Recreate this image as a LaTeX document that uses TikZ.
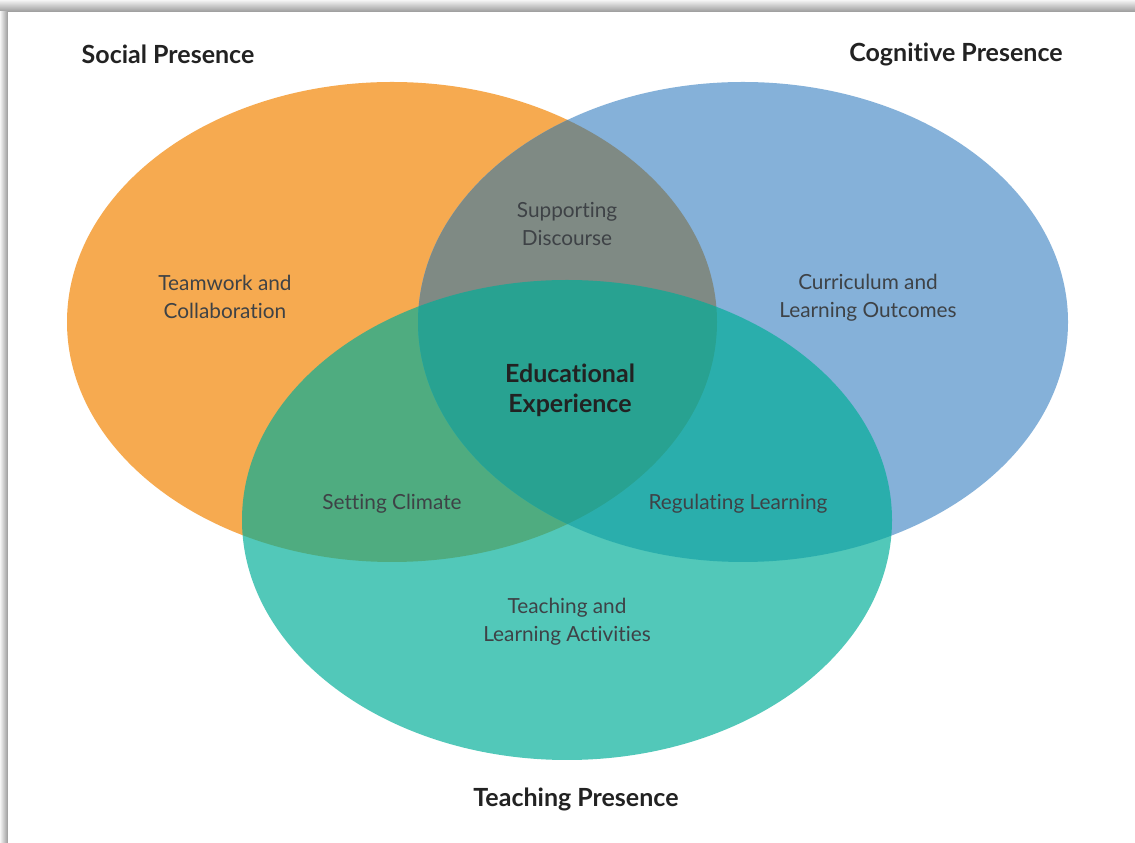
\documentclass[tikz,border=0pt]{standalone}
\usepackage{fontspec}
\setmainfont{Lato}[Ligatures={NoCommon}]
\newcommand\myti{t\kern0pt i}
\definecolor{socialC}{RGB}{246,170,80}
\definecolor{cogC}{RGB}{133,177,217}
\definecolor{bothC}{RGB}{127,138,132}
\definecolor{teachC}{RGB}{0,174,152}
\definecolor{labelC}{RGB}{62,66,70}
\definecolor{titleC}{RGB}{34,34,34}
\tikzset{
  lbl/.style={align=center, text=labelC, font=\fontsize{20.8}{28.5}\selectfont},
  ttl/.style={text=titleC, font=\bfseries\fontsize{25}{28}\selectfont},
  core/.style={align=center, text=titleC, font=\bfseries\fontsize{25}{30}\selectfont},
}
\begin{document}
\begin{tikzpicture}[x=1pt,y=1pt]
\useasboundingbox (0,0) rectangle (1135,843);
% card shadow
\shade[top color=black!4, bottom color=black!40] (0,831) rectangle (1135,843);
\shade[left color=black!4, right color=black!40] (0,0) rectangle (8,831);
\fill[white] (8,0) rectangle (1135,831);
% circles
\fill[socialC] (392,521) ellipse [x radius=325, y radius=240];
\fill[cogC] (743,521) ellipse [x radius=325, y radius=240];
\begin{scope}
  \clip (392,521) ellipse [x radius=325, y radius=240];
  \fill[bothC] (743,521) ellipse [x radius=325, y radius=240];
\end{scope}
\fill[teachC, fill opacity=0.68] (567,323) ellipse [x radius=325, y radius=240];
% titles
\node[ttl] (social) at (168,789) {Social Presence};
\node[ttl] (cog) at (956,789) {Cogni\myti ve Presence};
\node[ttl] (teach) at (576,44) {Teaching Presence};
% region labels
\node[lbl] (team) at (225,546) {Teamwork and\\Collabora\myti on};
\node[lbl] (disc) at (567,619) {Supporting\\Discourse};
\node[lbl] (curr) at (868,545.5) {Curriculum and\\Learning Outcomes};
\node[core] (edu) at (570,453) {Educa\myti onal\\Experience};
\node[lbl] (clim) at (392,339) {Setting Climate};
\node[lbl] (reg) at (738,339) {Regula\myti ng Learning};
\node[lbl] (act) at (567,221.5) {Teaching and\\Learning Ac\myti vi\myti es};
\end{tikzpicture}
\end{document}
